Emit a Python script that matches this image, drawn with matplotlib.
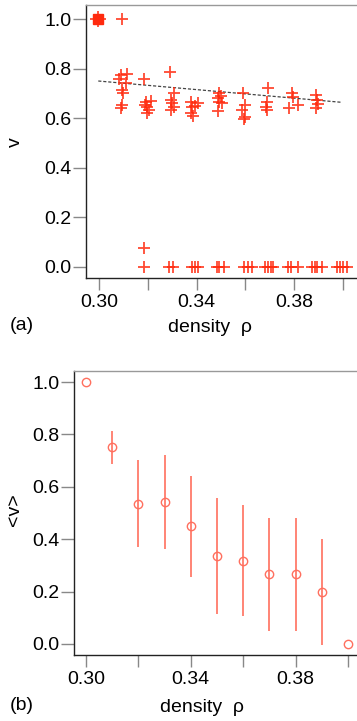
import matplotlib
matplotlib.use("Agg")
import matplotlib.pyplot as plt
from matplotlib.ticker import FixedLocator, FixedFormatter

# ─── Panel (a): individual runs ───────────────────────────────
rho_hi = [0.3096,
          0.3090, 0.3115, 0.3083, 0.3112, 0.3100, 0.3095, 0.3095, 0.3090,
          0.3184, 0.3193, 0.3213, 0.3197, 0.3206, 0.3197, 0.3190, 0.3184,
          0.3290, 0.3308, 0.3295, 0.3308, 0.3295, 0.3300,
          0.3378, 0.3405, 0.3380, 0.3375, 0.3392, 0.3384,
          0.3490, 0.3500, 0.3486, 0.3493, 0.3504, 0.3486,
          0.3590, 0.3600, 0.3586, 0.3600, 0.3595,
          0.3694, 0.3690, 0.3684, 0.3688,
          0.3790, 0.3795, 0.3816, 0.3780,
          0.3889, 0.3895, 0.3898, 0.3889]
v_hi = [1.0,
        0.774, 0.778, 0.757, 0.741, 0.703, 0.712, 0.653, 0.642,
        0.757, 0.667, 0.669, 0.646, 0.633, 0.620, 0.655, 0.075,
        0.788, 0.700, 0.673, 0.646, 0.633, 0.660,
        0.667, 0.660, 0.646, 0.620, 0.650, 0.610,
        0.700, 0.689, 0.680, 0.667, 0.660, 0.630,
        0.703, 0.653, 0.633, 0.606, 0.595,
        0.720, 0.667, 0.646, 0.633,
        0.700, 0.687, 0.653, 0.640,
        0.694, 0.673, 0.657, 0.640]

rho_zero = [0.3184, 0.3288, 0.3302, 0.3380, 0.3393, 0.3407,
            0.3485, 0.3493, 0.3512, 0.3593, 0.3609, 0.3626,
            0.3680, 0.3694, 0.3704, 0.3714, 0.3776, 0.3786, 0.3817,
            0.3872, 0.3885, 0.3895, 0.3913, 0.3977, 0.3988, 0.3999, 0.4015]
v_zero = [0.0] * len(rho_zero)

rho_sq, v_sq = [0.2997], [1.0]
fit_rho = [0.2997, 0.3995]
fit_v = [0.750, 0.664]

# ─── Panel (b): mean velocity with spread ─────────────────────
rho_b = [0.30, 0.31, 0.32, 0.33, 0.34, 0.35, 0.36, 0.37, 0.38, 0.39, 0.40]
v_mean = [1.0, 0.751, 0.535, 0.542, 0.449, 0.336, 0.318, 0.266, 0.266, 0.200, 0.0]
v_err = [0.0, 0.063, 0.166, 0.180, 0.193, 0.222, 0.211, 0.216, 0.216, 0.202, 0.0]

xt_all = [0.30, 0.32, 0.34, 0.36, 0.38, 0.40]
xt_lab = ["0.30", "", "0.34", "", "0.38", ""]
yt = [0.0, 0.2, 0.4, 0.6, 0.8, 1.0]

plt.rcParams["font.family"] = ["Liberation Sans", "DejaVu Sans"]
plt.rcParams["font.size"] = 14

W, H = 357, 721
fig = plt.figure(figsize=(W / 100, H / 100), dpi=100)


def px_axes(l, t, r, b):
    return fig.add_axes([l / W, 1 - b / H, (r - l) / W, (b - t) / H])


def style(ax):
    ax.spines["right"].set_visible(False)
    ax.spines["top"].set_color("#999999")
    ax.spines["left"].set_color("#222222")
    ax.spines["bottom"].set_color("#222222")
    for s in ax.spines.values():
        s.set_linewidth(1.0)
    ax.xaxis.set_major_locator(FixedLocator(xt_all))
    ax.xaxis.set_major_formatter(FixedFormatter(xt_lab))
    ax.set_yticks(yt)
    ax.set_yticklabels([f"{t:.1f}" for t in yt])
    ax.tick_params(axis="x", direction="out", length=8.5, width=1,
                   color="#888888", pad=3, labelsize=14)
    ax.tick_params(axis="y", direction="out", length=9.5, width=1,
                   color="#888888", pad=1, labelsize=14)


red = "#ff2a0e"
salmon = "#ff6f5e"

# (a)
axa = px_axes(86, 5, 357, 278)
axa.plot(fit_rho, fit_v, ls=(0, (2.5, 1.5)), color="#444444", lw=0.9)
axa.plot(rho_hi, v_hi, ls="none", marker="+", ms=9, mew=1.3,
         color=red, alpha=0.85)
axa.plot(rho_zero, v_zero, ls="none", marker="+", ms=9, mew=1.3,
         color=red, alpha=0.85)
axa.plot(rho_sq, v_sq, ls="none", marker="s", ms=6.5, color=red)
axa.plot(rho_sq, v_sq, ls="none", marker="+", ms=11, mew=1.3, color=red,
         alpha=0.85)
axa.set_xlim(0.29467, 0.40574)
axa.set_ylim(-0.0444, 1.0565)
style(axa)

# (b)
axb = px_axes(74, 371, 357, 655)
axb.errorbar(rho_b, v_mean, yerr=v_err, fmt="o", ms=6, mfc="none",
             mec=salmon, mew=1.0, ecolor=salmon, elinewidth=1.2, capsize=0)
axb.set_xlim(0.29542, 0.40344)
axb.set_ylim(-0.042, 1.042)
style(axb)

# labels
fig.text(210 / W, 1 - 328 / H, "density  ρ", ha="center", va="center", fontsize=14)
fig.text(10 / W, 1 - 325 / H, "(a)", ha="left", va="center", fontsize=14)
fig.text(202 / W, 1 - 708 / H, "density  ρ", ha="center", va="center", fontsize=14)
fig.text(10 / W, 1 - 705 / H, "(b)", ha="left", va="center", fontsize=14)
fig.text(15 / W, 1 - 142 / H, "v", ha="center", va="center", rotation=90, fontsize=14)
fig.text(15 / W, 1 - 510 / H, "<v>", ha="center", va="center", rotation=90, fontsize=14)

fig.savefig("out.png", dpi=100)
